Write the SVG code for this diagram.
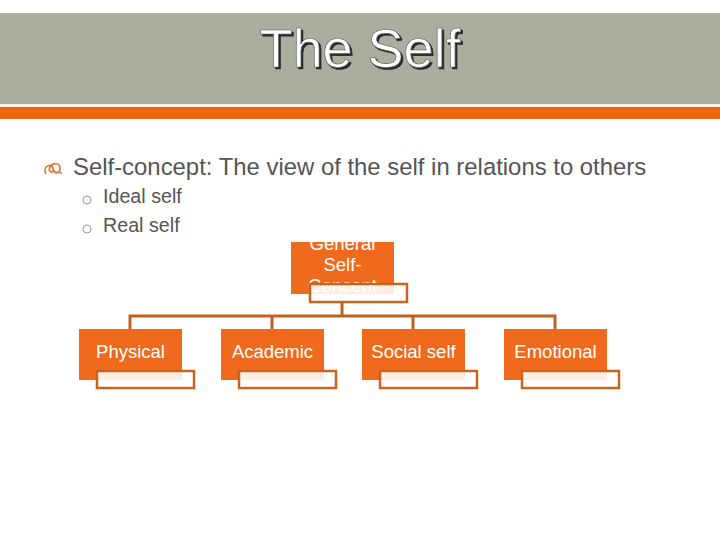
<svg xmlns="http://www.w3.org/2000/svg" width="720" height="540" viewBox="0 0 720 540">
<defs>
<filter id="shadow" x="-10%" y="-20%" width="120%" height="150%">
<feDropShadow dx="2" dy="2" stdDeviation="0.4" flood-color="#2a2a2a" flood-opacity="1"/>
</filter>
</defs>
<style>
.title{font-family:"Liberation Sans",Arial,sans-serif;font-size:54px;text-anchor:middle;fill:#ffffff;stroke:#555555;stroke-width:0.6}
.body{font-family:"Liberation Sans",Arial,sans-serif;fill:#555555}
.node{fill:#EF6A1C}
.cap{fill:#ffffff;fill-opacity:0.88;stroke:#CC641F;stroke-width:2.5}
.lbl{font-family:"Liberation Sans",Arial,sans-serif;font-size:18.5px;fill:#ffffff;text-anchor:middle}
.conn{fill:none;stroke:#BF611F;stroke-width:3}
</style>
<rect x="0" y="0" width="720" height="540" fill="#ffffff"/>
<g id="header">
<rect x="0" y="13" width="720" height="91" fill="#A9AE9F"/>
<rect x="0" y="104" width="720" height="3" fill="#F6F1E2"/>
<rect x="0" y="107" width="720" height="12" fill="#F0660F"/>
<text class="title" x="360" y="67" filter="url(#shadow)">The Self</text>
</g>
<g id="bullets">
<path d="M46 174 C42 167 51 162 53 168 C55 174 47 173 50 167 C53 162 60 163 60 168 C60 173 55 175 54 170 M55 172 L62 173" fill="none" stroke="#E07A3A" stroke-width="1.7"/>
<text class="body" x="73" y="175" font-size="23.9">Self-concept: The view of the self in relations to others</text>
<circle cx="87" cy="200" r="4" fill="none" stroke="#999999" stroke-width="1"/>
<circle cx="87" cy="229" r="4" fill="none" stroke="#999999" stroke-width="1"/>
<text class="body" x="103" y="203" font-size="19.7">Ideal self</text>
<text class="body" x="103" y="232" font-size="19.7">Real self</text>
</g>
<g id="connectors">
<path class="conn" d="M342 303 V316 M130 316 H556 M130 314.5 V329 M272 314.5 V329 M413 314.5 V329 M555 314.5 V329"/>
</g>
<g id="node-general">
<rect class="node" x="291" y="242" width="103" height="52"/>
<text class="lbl" x="342.5" y="250">General</text>
<text class="lbl" x="342.5" y="271">Self-</text>
<text class="lbl" x="342.5" y="292">Concept</text>
<rect class="cap" x="310" y="284" width="97" height="18"/>
</g>
<g id="node-physical">
<rect class="node" x="79" y="329" width="103" height="51"/>
<text class="lbl" x="130.5" y="358">Physical</text>
<rect class="cap" x="97" y="371" width="97" height="17"/>
</g>
<g id="node-academic">
<rect class="node" x="221" y="329" width="103" height="51"/>
<text class="lbl" x="272.5" y="358">Academic</text>
<rect class="cap" x="239" y="371" width="97" height="17"/>
</g>
<g id="node-social">
<rect class="node" x="362" y="329" width="103" height="51"/>
<text class="lbl" x="413.5" y="358">Social self</text>
<rect class="cap" x="380" y="371" width="97" height="17"/>
</g>
<g id="node-emotional">
<rect class="node" x="504" y="329" width="103" height="51"/>
<text class="lbl" x="555.5" y="358">Emotional</text>
<rect class="cap" x="522" y="371" width="97" height="17"/>
</g>
</svg>
